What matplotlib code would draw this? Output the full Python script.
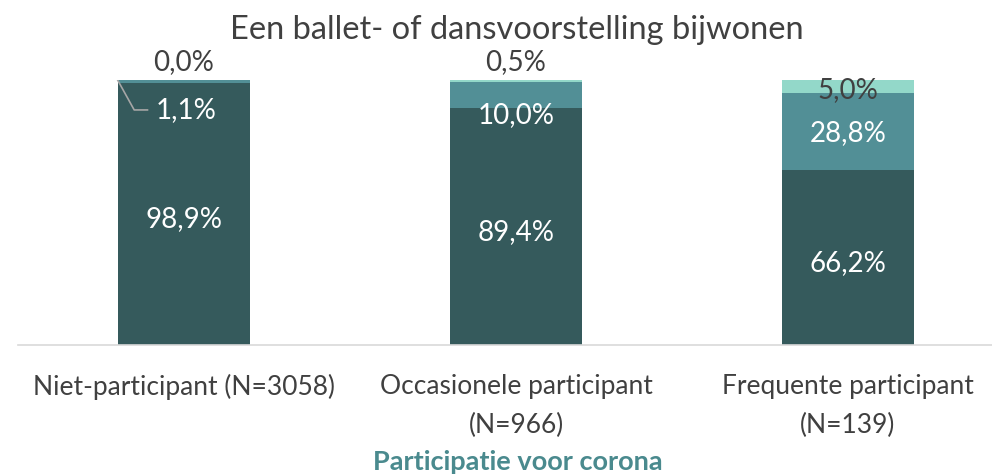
import numpy as np
import matplotlib.pyplot as plt

plt.rcParams['font.family'] = ['Lato', 'DejaVu Sans']

categories = ['Niet-participant (N=3058)', 'Occasionele participant\n(N=966)', 'Frequente participant\n(N=139)']
nooit = [98.9, 89.4, 66.2]
soms = [1.1, 10.0, 28.8]
vaak = [0.0, 0.5, 5.0]

c_dark = '#355A5C'
c_mid = '#528F96'
c_light = '#93D8C9'

fig = plt.figure(figsize=(9.92, 4.76), dpi=100)
ax = fig.add_axes([18 / 992, 131 / 476, 974 / 992, 265 / 476])

x = np.arange(len(categories))
w = 0.4
ax.bar(x, nooit, w, color=c_dark)
ax.bar(x, soms, w, bottom=nooit, color=c_mid)
bottom2 = np.array(nooit) + np.array(soms)
ax.bar(x, vaak, w, bottom=bottom2, color=c_light)

ax.set_xlim(-0.5, (992 - 18) / 332 - 0.5)
ax.set_ylim(0, 100)
fs = 19
lfs = 20

def pct(v):
    return f'{v:.1f}%'.replace('.', ',')

# data labels
for i in range(3):
    ax.text(x[i], nooit[i] / 2 - 2, pct(nooit[i]),
            ha='center', va='center', color='white', fontsize=lfs)

# middle segment
ax.text(x[0] + 0.005, 88.7, pct(soms[0]),
        ha='center', va='center', color='white', fontsize=lfs)
ax.plot([x[0] - 0.2, x[0] - 0.15, x[0] - 0.11], [100, 88.7, 88.7], color='#A6A6A6', lw=1.2)
ax.text(x[1], 86.8, pct(soms[1]),
        ha='center', va='center', color='white', fontsize=lfs)
ax.text(x[2], nooit[2] + soms[2] / 2 - 0.6, pct(soms[2]),
        ha='center', va='center', color='white', fontsize=lfs)

# top segment
for i in range(2):
    ax.text(x[i], 106.8, pct(vaak[i]),
            ha='center', va='center', color='#404040', fontsize=lfs, clip_on=False)
ax.text(x[2], 96.2, pct(vaak[2]),
        ha='center', va='center', color='#404040', fontsize=lfs)

ax.set_xticks(x)
ax.set_xticklabels(categories, fontsize=fs, color='#404040', linespacing=1.7)
ax.tick_params(axis='x', length=0, pad=21)
ax.set_yticks([])
for s in ['top', 'right', 'left']:
    ax.spines[s].set_visible(False)
ax.spines['bottom'].set_color('#D9D9D9')
ax.spines['bottom'].set_linewidth(1.2)

fig.text(518 / 992, 1 - 462 / 476, 'Participatie voor corona', ha='center', va='center',
         fontsize=19.5, fontweight='bold', color='#4A8A8E')
fig.text(517 / 992, 1 - 30 / 476, 'Een ballet- of dansvoorstelling bijwonen',
         ha='center', va='center', fontsize=23.5, color='#404040')

fig.savefig('out.png', dpi=100)
